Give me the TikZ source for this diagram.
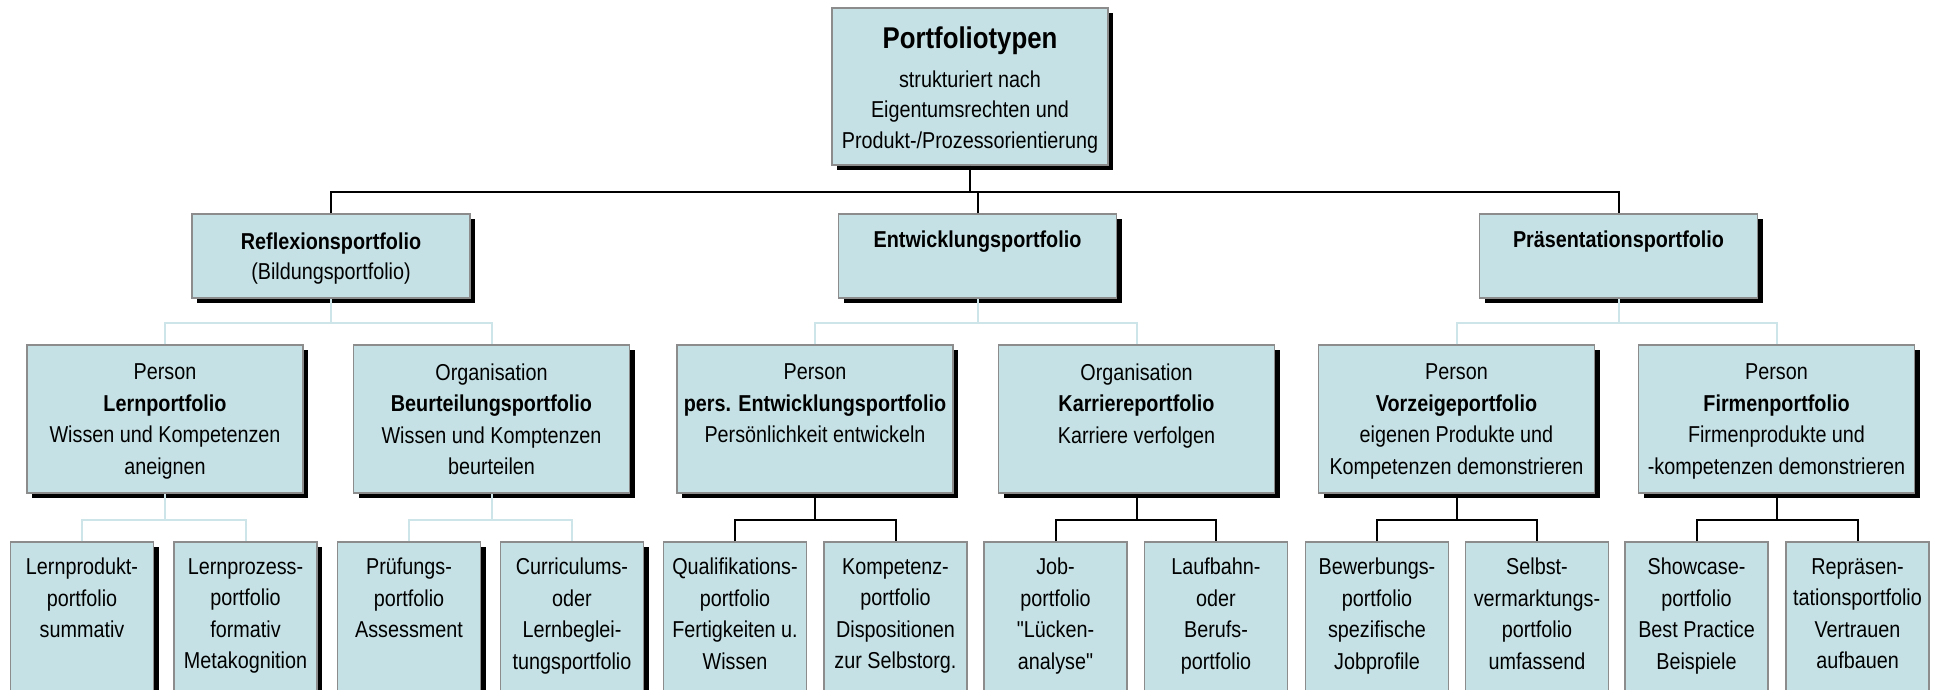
\documentclass[tikz,border=0pt]{standalone}
\usepackage{fontspec}
\setmainfont{Liberation Sans}[FakeStretch=0.86, Ligatures=TeXOff]
\usetikzlibrary{shadows}
\definecolor{boxfill}{RGB}{197,225,229}
\definecolor{boxborder}{RGB}{140,140,140}
\definecolor{linelight}{RGB}{205,228,232}
\tikzset{
  box/.style={draw=boxborder, line width=1.5pt, fill=boxfill, inner sep=0pt},
  shbox/.style={box, drop shadow={shadow xshift=5pt, shadow yshift=-5pt, fill=black, opacity=1}},
  lvtwo/.style={shbox, minimum width=278pt, minimum height=84pt},
  lvthree/.style={shbox, minimum width=276pt, minimum height=148pt},
  lvfour/.style={box, minimum width=143pt, minimum height=160pt},
  lvfoursh/.style={shbox, minimum width=143pt, minimum height=160pt},
  txt/.style={anchor=north, inner sep=0pt, align=center, font=\fontsize{23}{31.5}\selectfont},
  txttwo/.style={txt, font=\fontsize{23}{30}\selectfont},
  titletxt/.style={anchor=north, inner sep=0pt, align=center, font=\fontsize{30}{36}\selectfont\bfseries},
  dark/.style={draw=black, line width=2pt},
  light/.style={draw=linelight, line width=2pt}
}
\begin{document}
\begin{tikzpicture}[x=1pt, y=-1pt]
\useasboundingbox (0,0) rectangle (1944,690);
\clip (0,0) rectangle (1944,690);
\fill[white] (0,0) rectangle (1944,690);
% bus coordinates
\coordinate (busA) at (0,192);
\coordinate (busB) at (0,323);
\coordinate (busC) at (0,520);
% top
\node[shbox, minimum width=276pt, minimum height=157pt] (top) at (970,86.5) {};
\node[titletxt] (toptitle) at (970,27) {Portfoliotypen};
\node[txt, font=\fontsize{23}{30.5}\selectfont] (topsub) at (970,70.5) {strukturiert nach\\Eigentumsrechten und\\Produkt-/Prozessorientierung};
% level 2
\node[lvtwo] (R) at (331,256) {};
\node[lvtwo] (E) at (977.5,256) {};
\node[lvtwo] (P) at (1618.5,256) {};
\node[txttwo] (Rt) at (331,233) {\textbf{Reflexionsportfolio}\\(Bildungsportfolio)};
\node[txttwo] (Et) at (977.5,231) {\textbf{Entwicklungsportfolio}};
\node[txttwo] (Pt) at (1618.5,231) {\textbf{Präsentationsportfolio}};
% level 3
\node[lvthree] (A1) at (165,419) {};
\node[lvthree] (A2) at (491.5,419) {};
\node[lvthree] (A3) at (815,419) {};
\node[lvthree] (A4) at (1136.5,419) {};
\node[lvthree] (A5) at (1456.5,419) {};
\node[lvthree] (A6) at (1776.5,419) {};
\node[txt] (A1t) at (165,363.5) {Person\\\textbf{Lernportfolio}\\Wissen und Kompetenzen\\aneignen};
\node[txt] (A2t) at (491.5,363.5) {Organisation\\\textbf{Beurteilungsportfolio}\\Wissen und Komptenzen\\beurteilen};
\node[txt] (A3t) at (815,363.5) {Person\\\textbf{pers. Entwicklungsportfolio}\\Persönlichkeit entwickeln};
\node[txt] (A4t) at (1136.5,363.5) {Organisation\\\textbf{Karriereportfolio}\\Karriere verfolgen};
\node[txt] (A5t) at (1456.5,363.5) {Person\\\textbf{Vorzeigeportfolio}\\eigenen Produkte und\\Kompetenzen demonstrieren};
\node[txt] (A6t) at (1776.5,363.5) {Person\\\textbf{Firmenportfolio}\\Firmenprodukte und\\-kompetenzen demonstrieren};
% level 4
\node[lvfoursh] (B1) at (82,622) {};
\node[lvfoursh] (B2) at (245.5,622) {};
\node[lvfoursh] (B3) at (409,622) {};
\node[lvfoursh] (B4) at (572,622) {};
\node[lvfour] (B5) at (735,622) {};
\node[lvfour] (B6) at (895.5,622) {};
\node[lvfour] (B7) at (1055.5,622) {};
\node[lvfour] (B8) at (1216,622) {};
\node[lvfour] (B9) at (1377,622) {};
\node[lvfour] (B10) at (1537,622) {};
\node[lvfour] (B11) at (1696.5,622) {};
\node[lvfour] (B12) at (1857.5,622) {};
\node[txt] (B1t) at (82,558) {Lernprodukt-\\portfolio\\summativ};
\node[txt] (B2t) at (245.5,558) {Lernprozess-\\portfolio\\formativ\\Metakognition};
\node[txt] (B3t) at (409,558) {Prüfungs-\\portfolio\\Assessment};
\node[txt] (B4t) at (572,558) {Curriculums-\\oder\\Lernbeglei-\\tungsportfolio};
\node[txt] (B5t) at (735,558) {Qualifikations-\\portfolio\\Fertigkeiten u.\\Wissen};
\node[txt] (B6t) at (895.5,558) {Kompetenz-\\portfolio\\Dispositionen\\zur Selbstorg.};
\node[txt] (B7t) at (1055.5,558) {Job-\\portfolio\\"Lücken-\\analyse"};
\node[txt] (B8t) at (1216,558) {Laufbahn-\\oder\\Berufs-\\portfolio};
\node[txt] (B9t) at (1377,558) {Bewerbungs-\\portfolio\\spezifische\\Jobprofile};
\node[txt] (B10t) at (1537,558) {Selbst-\\vermarktungs-\\portfolio\\umfassend};
\node[txt] (B11t) at (1696.5,558) {Showcase-\\portfolio\\Best Practice\\Beispiele};
\node[txt] (B12t) at (1857.5,558) {Repräsen-\\tationsportfolio\\Vertrauen\\aufbauen};
% connectors level 1 -> 2
\draw[dark] (top.south) -- (top.south |- busA);
\draw[dark] (R.north) -- (R.north |- busA) -- (P.north |- busA) -- (P.north);
\draw[dark] (E.north) -- (E.north |- busA);
% connectors level 2 -> 3
\draw[light] (R.south) -- (R.south |- busB);
\draw[light] (A1.north) -- (A1.north |- busB) -- (A2.north |- busB) -- (A2.north);
\draw[light] (E.south) -- (E.south |- busB);
\draw[light] (A3.north) -- (A3.north |- busB) -- (A4.north |- busB) -- (A4.north);
\draw[light] (P.south) -- (P.south |- busB);
\draw[light] (A5.north) -- (A5.north |- busB) -- (A6.north |- busB) -- (A6.north);
% connectors level 3 -> 4
\draw[light] (A1.south) -- (A1.south |- busC);
\draw[light] (B1.north) -- (B1.north |- busC) -- (B2.north |- busC) -- (B2.north);
\draw[light] (A2.south) -- (A2.south |- busC);
\draw[light] (B3.north) -- (B3.north |- busC) -- (B4.north |- busC) -- (B4.north);
\draw[dark] (A3.south) -- (A3.south |- busC);
\draw[dark] (B5.north) -- (B5.north |- busC) -- (B6.north |- busC) -- (B6.north);
\draw[dark] (A4.south) -- (A4.south |- busC);
\draw[dark] (B7.north) -- (B7.north |- busC) -- (B8.north |- busC) -- (B8.north);
\draw[dark] (A5.south) -- (A5.south |- busC);
\draw[dark] (B9.north) -- (B9.north |- busC) -- (B10.north |- busC) -- (B10.north);
\draw[dark] (A6.south) -- (A6.south |- busC);
\draw[dark] (B11.north) -- (B11.north |- busC) -- (B12.north |- busC) -- (B12.north);
\end{tikzpicture}
\end{document}
